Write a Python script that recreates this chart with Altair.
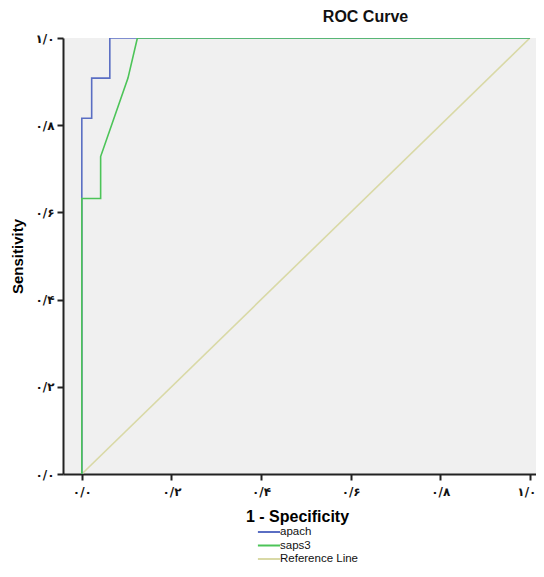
import altair as alt
import pandas as pd

# ROC curve vertices
apach_fpr = [0.0, 0.0, 0.022, 0.022, 0.0625, 0.0625, 1.0]
apach_tpr = [0.0, 0.816, 0.816, 0.908, 0.908, 1.0, 1.0]
saps3_fpr = [0.0, 0.0, 0.042, 0.042, 0.103, 0.124, 1.0]
saps3_tpr = [0.0, 0.632, 0.632, 0.728, 0.908, 1.0, 1.0]
ref_fpr = [0.0, 1.0]
ref_tpr = [0.0, 1.0]

series_names = ["apach", "saps3", "Reference Line"]
series_colors = ["#5a6ec3", "#4cc458", "#d9d9a6"]

tick_values = [0.0, 0.2, 0.4, 0.6, 0.8, 1.0]
tick_labels = ["۰/۰", "۰/۲", "۰/۴", "۰/۶", "۰/۸", "۱/۰"]


def make_df(name, xs, ys):
    return pd.DataFrame({"fpr": xs, "tpr": ys, "series": name, "idx": range(len(xs))})


df_apach = make_df("apach", apach_fpr, apach_tpr)
df_saps = make_df("saps3", saps3_fpr, saps3_tpr)
df_ref = make_df("Reference Line", ref_fpr, ref_tpr)

label_expr = "".join(
    f"abs(datum.value - {v}) < 0.001 ? '{l}' : " for v, l in zip(tick_values, tick_labels)
) + "''"

label_font = "DejaVu Sans"

x_enc = alt.X(
    "fpr:Q",
    scale=alt.Scale(domain=[-0.042, 1.0136], nice=False, zero=False),
    axis=alt.Axis(
        values=tick_values,
        labelExpr=label_expr,
        title="1 - Specificity",
        grid=False,
        domainColor="#222222",
        domainWidth=2,
        tickColor="#222222",
        tickWidth=2,
        tickSize=6,
        labelFont=label_font,
        labelFontSize=12,
        labelFontWeight="bold",
        labelColor="#111111",
        labelPadding=6,
        labelFlush=False,
        labelAlign={"condition": {"test": "datum.value >= 0.999", "value": "right"}, "value": "center"},
        labelOffset={"condition": {"test": "datum.value >= 0.999", "value": 6}, "value": 0},
        titleFont="Arial",
        titleFontSize=16,
        titleFontWeight="bold",
        titleColor="#000000",
        titlePadding=11,
        titleX=234,
        titleAlign="center",
    ),
)
y_enc = alt.Y(
    "tpr:Q",
    scale=alt.Scale(domain=[0, 1], nice=False),
    axis=alt.Axis(
        values=tick_values,
        labelExpr=label_expr,
        title="Sensitivity",
        grid=False,
        domainColor="#222222",
        domainWidth=2,
        tickColor="#222222",
        tickWidth=2,
        tickSize=6,
        labelFont=label_font,
        labelFontSize=12,
        labelFontWeight="bold",
        labelColor="#111111",
        labelPadding=3,
        labelFlush=False,
        titleFont="Arial",
        titleFontSize=15,
        titleFontWeight="bold",
        titleColor="#000000",
        titlePadding=9,
    ),
)
color_enc = alt.Color(
    "series:N",
    scale=alt.Scale(domain=series_names, range=series_colors),
    legend=alt.Legend(
        title=None,
        orient="none",
        legendX=199,
        legendY=487,
        symbolType="M-1.85,0H1.85",
        symbolSize=144,
        symbolStrokeWidth=2,
        labelFont="Arial",
        labelFontSize=11.5,
        labelColor="#111111",
        rowPadding=0.5,
        labelOffset=4,
    ),
)


def layer(df):
    return alt.Chart(df).mark_line(strokeWidth=1.6, clip=True).encode(
        x=x_enc, y=y_enc, color=color_enc, order="idx:Q"
    )


chart = (
    alt.layer(layer(df_ref), layer(df_apach), layer(df_saps))
    .properties(
        width=473,
        height=436,
        title=alt.TitleParams(
            "ROC Curve",
            font="Arial",
            fontSize=16,
            fontWeight="bold",
            color="#111111",
            dx=66,
            offset=7,
        ),
        autosize=alt.AutoSizeParams(type="none"),
        padding={"left": 55, "top": 30, "right": 0, "bottom": 90},
    )
    .configure_view(fill="#f0f0f0", stroke=None)
)

chart.save("out.html", embed_options={"renderer": "svg", "actions": False})
